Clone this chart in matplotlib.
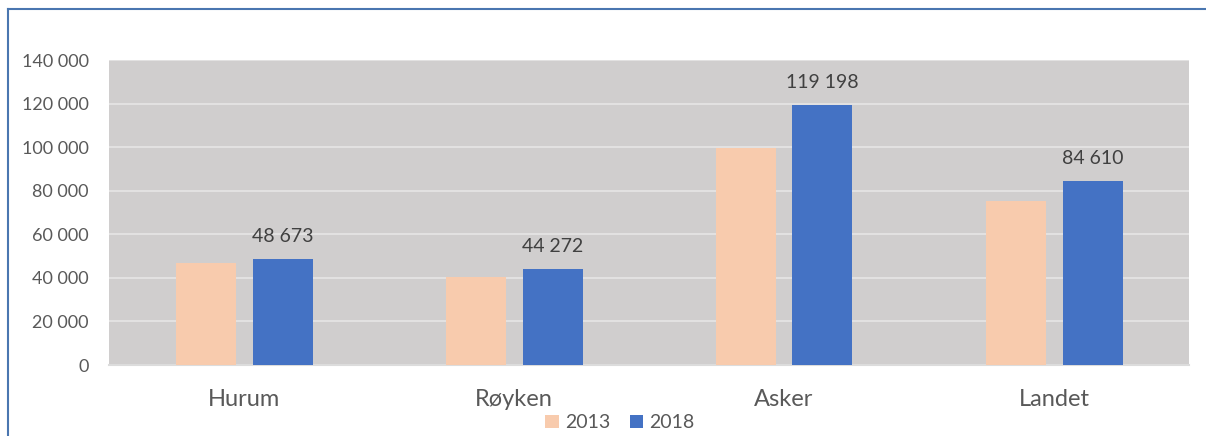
import numpy as np
import matplotlib.pyplot as plt
from matplotlib.lines import Line2D

categories = ['Hurum', 'Røyken', 'Asker', 'Landet']
v2013 = [46900, 40500, 99700, 75400]
v2018 = [48673, 44272, 119198, 84610]
yticks = [0, 20000, 40000, 60000, 80000, 100000, 120000, 140000]

plt.rcParams['font.family'] = ['Lato', 'DejaVu Sans']
txt = '#595959'

fig = plt.figure(figsize=(12.06, 4.36), dpi=100)
ax = fig.add_axes([109/1206, 1 - 365/436, 1080/1206, 305/436])
ax.set_facecolor('#D0CECE')

x = np.arange(len(categories))
w = 60/270
gap = 17/270
ax.bar(x - (w + gap)/2, v2013, w, color='#F8CBAD', label='2013', zorder=3)
b = ax.bar(x + (w + gap)/2, v2018, w, color='#4472C4', label='2018', zorder=3)

for rect, v in zip(b, v2018):
    ax.annotate(f'{v:,}'.replace(',', ' '), (rect.get_x() + rect.get_width()/2, v),
                xytext=(0, 10), textcoords='offset points', ha='center', va='bottom',
                fontsize=14, color='#404040')

ax.set_xlim(-0.5, len(categories) - 0.5)
ax.set_ylim(0, 140000)
ax.set_yticks(yticks)
ax.set_yticklabels([f'{t:,}'.replace(',', ' ') for t in yticks], fontsize=13, color=txt)
ax.set_xticks(x)
ax.set_xticklabels(categories, fontsize=17, color=txt)
ax.tick_params(length=0)
ax.tick_params(axis='y', pad=14.5)
ax.tick_params(axis='x', pad=17)
ax.yaxis.grid(True, color='#E2E1E1', linewidth=1.5, zorder=1)
ax.set_axisbelow(True)
for s in ['left', 'right', 'top']:
    ax.spines[s].set_visible(False)
ax.spines['bottom'].set_color('#DCDCDC')
ax.spines['bottom'].set_linewidth(1.5)

ax.legend(loc='center', bbox_to_anchor=(0.473, -0.19), ncol=2, frameon=False,
          fontsize=14, labelcolor=txt, handlelength=0.7, handleheight=0.7,
          handletextpad=0.3, columnspacing=1.0)

fig.add_artist(Line2D([8/1206, 8/1206], [0, 1 - 9/436], color='#4A76B0', linewidth=1.5))
fig.add_artist(Line2D([8/1206, 1], [1 - 9/436, 1 - 9/436], color='#4A76B0', linewidth=1.5))

fig.savefig('out.png', dpi=100)
